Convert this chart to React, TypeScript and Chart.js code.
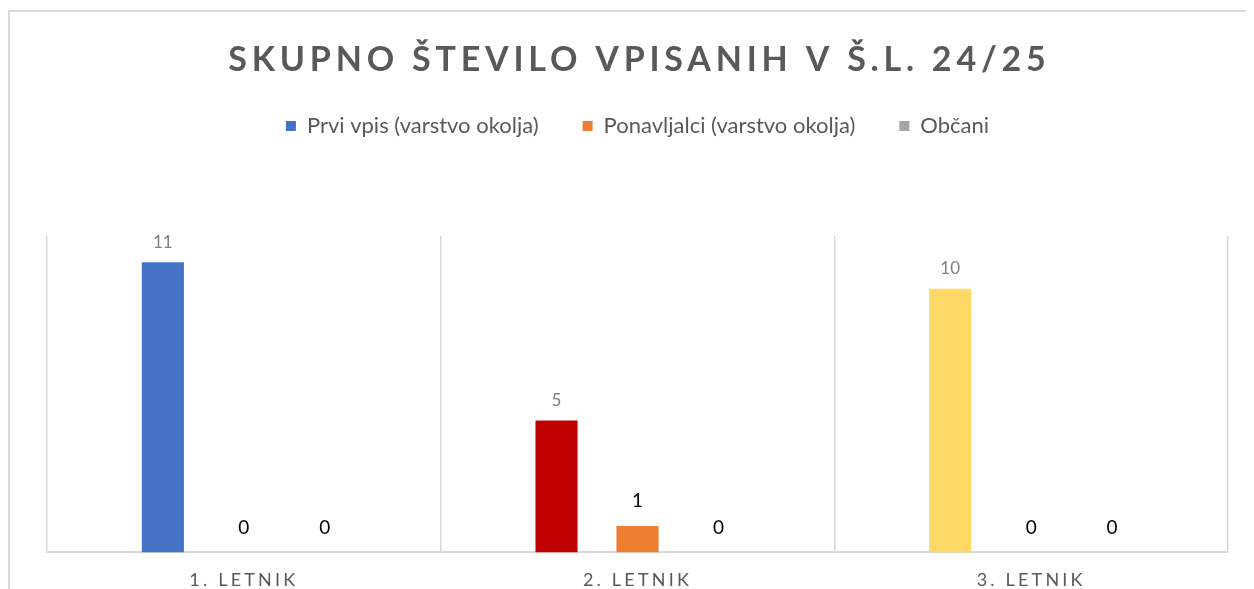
import React, { useEffect, useRef } from 'react';
import { Chart, registerables } from 'chart.js';

Chart.register(...registerables);

const TITLE = 'SKUPNO ŠTEVILO VPISANIH V Š.L. 24/25';
const categories = ['1. LETNIK', '2. LETNIK', '3. LETNIK'];
const seriesNames = ['Prvi vpis (varstvo okolja)', 'Ponavljalci (varstvo okolja)', 'Občani'];
const prviVpis = [11, 5, 10];
const ponavljalci = [0, 1, 0];
const obcani = [0, 0, 0];
const prviVpisColors = ['#4472C4', '#C00000', '#FFD966'];
const legendColors = ['#4472C4', '#ED7D31', '#A5A5A5'];
const yMin = 0;
const yMax = 12;

const FONT = 'Lato';
const TITLE_SPACING = 4.8;
const TICK_SPACING = 3.2;

const labelsPlugin = {
  id: 'customLabels',
  beforeDraw(chart: any) {
    chart.ctx.letterSpacing = '0px';
  },
  afterDatasetsDraw(chart: any) {
    const ctx = chart.ctx;
    ctx.save();
    ctx.letterSpacing = '0px';
    chart.data.datasets.forEach((ds: any, di: number) => {
      const meta = chart.getDatasetMeta(di);
      meta.data.forEach((bar: any, i: number) => {
        const v = ds.data[i];
        ctx.font = di === 0 ? `17px ${FONT}` : `19px ${FONT}`;
        ctx.fillStyle = di === 0 ? '#7F7F7F' : '#000000';
        ctx.textAlign = 'center';
        ctx.textBaseline = 'middle';
        ctx.fillText(String(v), bar.x, bar.y - (di === 0 ? 20 : 25));
      });
    });
    ctx.restore();
    // letter-spaced category labels are drawn after this hook (ticks.z = 1)
    ctx.letterSpacing = `${TICK_SPACING}px`;
  },
  afterDraw(chart: any) {
    const ctx = chart.ctx;
    ctx.letterSpacing = '0px';
    ctx.save();
    ctx.letterSpacing = `${TITLE_SPACING}px`;
    ctx.font = `bold 34px ${FONT}`;
    ctx.fillStyle = '#595959';
    ctx.textAlign = 'center';
    ctx.textBaseline = 'middle';
    ctx.fillText(TITLE, chart.width / 2 + TITLE_SPACING / 2, 48);
    ctx.restore();
    ctx.letterSpacing = '0px';
  },
};

export default function App() {
  const ref = useRef<HTMLCanvasElement>(null);

  useEffect(() => {
    const chart = new Chart(ref.current as HTMLCanvasElement, {
      type: 'bar',
      data: {
        labels: categories,
        datasets: [
          { label: seriesNames[0], data: prviVpis, backgroundColor: prviVpisColors, borderWidth: 0 },
          { label: seriesNames[1], data: ponavljalci, backgroundColor: legendColors[1], borderWidth: 0 },
          { label: seriesNames[2], data: obcani, backgroundColor: legendColors[2], borderWidth: 0 },
        ],
      },
      options: {
        responsive: false,
        maintainAspectRatio: false,
        devicePixelRatio: 1,
        animation: false,
        datasets: { bar: { categoryPercentage: 0.617, barPercentage: 0.52 } },
        layout: { padding: { top: 59, left: 37, right: 36, bottom: 0 } },
        plugins: {
          title: { display: false },
          subtitle: {
            display: true,
            text: '',
            weight: 500,
            font: { size: 1 },
            padding: { top: 87.8, bottom: 0 },
          },
          tooltip: { enabled: false },
          legend: {
            display: true,
            position: 'top',
            labels: {
              boxWidth: 10,
              boxHeight: 10,
              padding: 44,
              color: '#595959',
              font: { family: FONT, size: 22 },
              generateLabels: () =>
                seriesNames.map((text, i) => ({
                  text,
                  fillStyle: legendColors[i],
                  strokeStyle: legendColors[i],
                  lineWidth: 0,
                  hidden: false,
                  datasetIndex: i,
                  fontColor: '#595959',
                })),
            },
          },
        },
        scales: {
          x: {
            offset: true,
            grid: { display: true, offset: true, color: '#D9D9D9', lineWidth: 1.5, drawTicks: false },
            border: { display: true, color: '#D9D9D9', width: 2 },
            ticks: { z: 1, padding: 17, color: '#595959', font: { family: FONT, size: 18 } },
          },
          y: { display: false, min: yMin, max: yMax },
        },
      },
      plugins: [labelsPlugin],
    } as any);
    return () => chart.destroy();
  }, []);

  return (
    <>
      <style>{'body{overflow:hidden}'}</style>
      <div
        style={{
          position: 'relative',
          top: 2,
          width: 1258,
          height: 620,
          border: '2px solid #D9D9D9',
          boxSizing: 'border-box',
          background: '#ffffff',
        }}
      >
        <canvas ref={ref} width={1254} height={596} style={{ display: 'block', width: 1254, height: 596 }} />
      </div>
    </>
  );
}
